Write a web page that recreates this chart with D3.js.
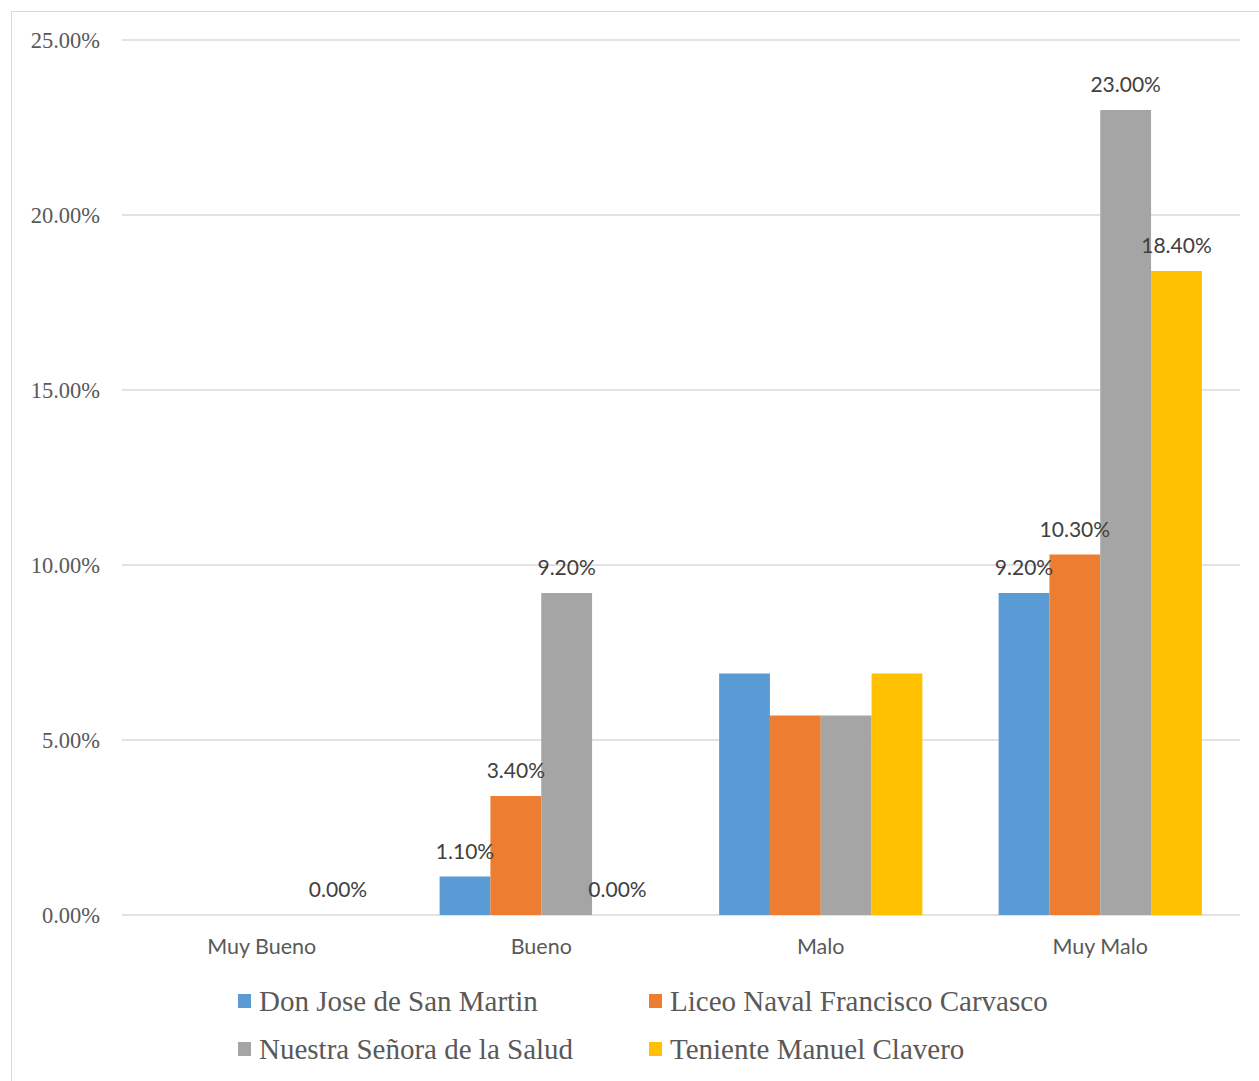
<!DOCTYPE html>
<html>
<head>
<meta charset="utf-8">
<script src="https://cdn.jsdelivr.net/npm/d3@7"></script>
<style>
  html, body { margin: 0; padding: 0; background: #fff; }
  svg { display: block; }
</style>
</head>
<body>
<svg id="chart" width="1259" height="1081"></svg>
<script>
// Rating categories along the x axis
const categories = ["Muy Bueno", "Bueno", "Malo", "Muy Malo"];

// Schools (one series each)
const seriesNames = [
  "Don Jose de San Martin",
  "Liceo Naval Francisco Carvasco",
  "Nuestra Señora de la Salud",
  "Teniente Manuel Clavero"
];

// Percentages per school, in category order
const donJose   = [0.0, 1.1, 6.9, 9.2];
const liceo     = [0.0, 3.4, 5.7, 10.3];
const nuestra   = [0.0, 9.2, 5.7, 23.0];
const teniente  = [0.0, 0.0, 6.9, 18.4];
const seriesValues = [donJose, liceo, nuestra, teniente];

// Which bars carry a value label (per series, per category)
const labelShown = [
  [false, true, false, true],
  [false, true, false, true],
  [false, true, false, true],
  [true,  true, false, true]
];

const yTicks = [0, 5, 10, 15, 20, 25];
const colors = ["#5B9BD5", "#ED7D31", "#A5A5A5", "#FFC000"];

const svg = d3.select("#chart");
const plot = { left: 122, right: 1240, top: 40, bottom: 915 };

// Chart frame
svg.append("rect")
  .attr("x", 11.5).attr("y", 11.5)
  .attr("width", 1300).attr("height", 1200)
  .attr("fill", "none").attr("stroke", "#d9d9d9").attr("stroke-width", 1);

const x0 = d3.scaleBand().domain(categories).range([plot.left, plot.right]);
const x1 = d3.scaleBand().domain(d3.range(seriesNames.length))
  .range([0, x0.bandwidth()]).paddingInner(0).paddingOuter(0.75);
const y = d3.scaleLinear().domain([0, 25]).range([plot.bottom, plot.top]);

// Gridlines
svg.append("g").selectAll("line").data(yTicks).join("line")
  .attr("x1", plot.left).attr("x2", plot.right)
  .attr("y1", d => y(d)).attr("y2", d => y(d))
  .attr("stroke", "#d9d9d9").attr("stroke-width", 1.5);

// Y tick labels
svg.append("g").selectAll("text").data(yTicks).join("text")
  .attr("x", 100).attr("y", d => y(d) + 7.5)
  .attr("text-anchor", "end")
  .attr("font-family", "'Liberation Serif', 'Times New Roman', serif")
  .attr("font-size", 22.5).attr("fill", "#595959")
  .text(d => d.toFixed(2) + "%");

// Bars
seriesValues.forEach((vals, si) => {
  svg.append("g").selectAll("rect").data(vals).join("rect")
    .attr("x", (d, ci) => x0(categories[ci]) + x1(si))
    .attr("width", x1.bandwidth())
    .attr("y", d => y(d))
    .attr("height", d => y(0) - y(d))
    .attr("fill", colors[si]);
});

// Value labels
seriesValues.forEach((vals, si) => {
  svg.append("g").selectAll("text")
    .data(vals.map((v, ci) => ({ v, ci })).filter(d => labelShown[si][d.ci]))
    .join("text")
    .attr("x", d => x0(categories[d.ci]) + x1(si) + x1.bandwidth() / 2)
    .attr("y", d => y(d.v) - 18)
    .attr("text-anchor", "middle")
    .attr("font-family", "Lato, 'Open Sans', sans-serif")
    .attr("font-size", 21).attr("fill", "#404040")
    .text(d => d.v.toFixed(2) + "%");
});

// Category labels
svg.append("g").selectAll("text").data(categories).join("text")
  .attr("x", d => x0(d) + x0.bandwidth() / 2)
  .attr("y", 954)
  .attr("text-anchor", "middle")
  .attr("font-family", "Lato, 'Open Sans', sans-serif")
  .attr("font-size", 21.5).attr("fill", "#595959")
  .text(d => d);

// Legend, two columns by two rows
const legendPos = [
  { x: 238, y: 1001 }, { x: 649, y: 1001 },
  { x: 238, y: 1049 }, { x: 649, y: 1049 }
];
const legend = svg.append("g").selectAll("g").data(seriesNames).join("g")
  .attr("transform", (d, i) => `translate(${legendPos[i].x},${legendPos[i].y})`);
legend.append("rect")
  .attr("x", 0).attr("y", -7).attr("width", 13).attr("height", 14)
  .attr("fill", (d, i) => colors[i]);
legend.append("text")
  .attr("x", 21).attr("y", 10)
  .attr("font-family", "'Liberation Serif', 'Times New Roman', serif")
  .attr("font-size", 29).attr("fill", "#595959")
  .text(d => d);
</script>
</body>
</html>
